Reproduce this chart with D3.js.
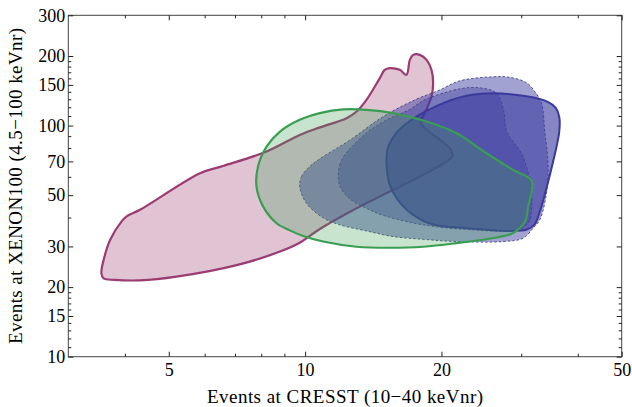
<!DOCTYPE html>
<html>
<head>
<meta charset="utf-8">
<script src="https://cdn.jsdelivr.net/npm/d3@7"></script>
<style>
  body { margin: 0; background: #fff; }
  text { font-family: "Liberation Serif", "Times New Roman", serif; }
</style>
</head>
<body>
<div id="chart"></div>
<script>
const width = 632
const height = 407
const margin = {top: 15.3, right: 10.3, bottom: 50.3, left: 68.3}

// ticks
const xTicks = [5, 10, 20, 50]
const xMinor = [4, 6, 7, 8, 9, 30, 40]
const yTicks = [10, 15, 20, 30, 50, 70, 100, 150, 200, 300]
const yMinor = [11, 12, 13, 14, 16, 17, 18, 19, 40, 60, 80, 90, 110, 120, 130, 140, 160, 170, 180, 190]

// contours, [events CRESST, events XENON100]
const regionPink = [[3.55,23.0],[3.59,21.8],[3.80,21.5],[4.32,21.4],[5.20,22.2],[7.06,24.9],[8.80,28.5],[9.73,31.1],
  [10.78,35.7],[12.99,43.9],[15.38,51.8],[18.22,61.2],[20.52,69.9],[21.15,73.9],[20.86,79.8],[18.22,99.0],
  [17.98,104.1],[18.22,109.4],[19.01,133.5],[19.17,152.6],[19.01,174.2],[18.54,192.5],[17.92,202.3],[17.32,202.3],
  [17.03,192.5],[16.74,165.8],[16.18,174.2],[15.38,177.2],[14.99,174.2],[14.62,160.4],[13.66,129.2],[12.99,115.0],
  [12.34,107.6],[10.78,98.2],[9.73,91.1],[8.22,77.2],[6.59,66.9],[5.86,62.2],[4.32,43.2],[4.03,40.4],
  [3.93,38.4],[3.71,32.0],[3.59,26.2]]

const regionOuter = [[9.73,54.4],[9.82,60.2],[10.24,66.5],[10.96,73.4],[12.55,86.5],[14.84,109.1],[17.47,129.2],
  [19.63,141.3],[21.95,156.1],[25.96,162.5],[28.31,161.7],[30.86,153.0],[32.14,140.3],[33.26,125.0],[33.82,94.2],
  [34.39,67.6],[34.11,51.0],[32.97,39.1],[31.87,36.0],[30.29,32.55],[27.36,31.5],[21.59,31.5],[18.22,32.2],
  [15.64,33.1],[13.66,35.0],[11.93,37.2],[10.96,39.9],[10.07,46.1]]

const regionInner = [[11.84,59.4],[11.93,67.6],[12.24,74.7],[12.68,80.9],[13.75,93.9],[15.23,106.4],[17.03,117.5],
  [18.38,129.2],[21.95,144.2],[24.31,145.6],[26.45,138.1],[27.36,118.9],[27.88,93.9],[28.89,84.2],[30.04,75.9],
  [30.86,65.6],[31.49,55.4],[31.65,45.4],[31.17,38.3],[29.33,35.4],[23.49,35.4],[18.22,37.2],[14.99,40.7],
  [13.75,43.6],[12.55,48.2],[11.99,53.7]]

const regionBlue = [[15.13,67.6],[15.23,80.1],[15.78,91.1],[16.60,100.7],[17.65,109.6],[19.53,121.7],[22.71,134.5],
  [25.96,137.9],[30.81,133.8],[34.34,126.7],[35.76,119.3],[36.40,109.1],[36.40,94.2],[35.28,69.9],[34.11,53.6],
  [32.97,42.4],[32.14,37.5],[30.86,35.5],[28.31,35.0],[22.33,36.1],[19.17,37.35],[17.32,41.1],[16.02,47.7],
  [15.38,55.4]]

const regionGreen = [[7.81,54.4],[7.87,66.5],[8.22,81.1],[8.80,94.2],[9.73,105.9],[10.78,113.2],[12.13,117.5],
  [13.66,117.0],[15.64,113.2],[18.54,104.1],[21.59,92.7],[25.14,75.9],[28.79,64.3],[31.65,57.6],[31.07,44.6],
  [30.55,38.3],[28.79,34.3],[26.45,32.8],[21.59,31.0],[18.22,29.9],[15.38,29.6],[12.99,29.9],[10.96,31.5],
  [9.90,33.3],[9.25,35.2],[8.65,37.8],[8.08,44.6]]

const svg = d3.select("div#chart")
    .append("svg")
    .attr("width", width)
    .attr("height", height)

const x = d3.scaleLog().domain([3, 50]).range([margin.left, width - margin.right])
const y = d3.scaleLog().domain([10, 300]).range([height - margin.bottom, margin.top])

const line = d3.line()
    .x(d => x(d[0]))
    .y(d => y(d[1]))
    .curve(d3.curveCatmullRomClosed.alpha(0.5))

const shapes = svg.append("g")

// de abajo hacia arriba
shapes.append("path").datum(regionPink)
    .attr("d", line)
    .attr("fill", "#9b3b72").attr("fill-opacity", 0.3)
    .attr("stroke", "#9b3b72").attr("stroke-width", 2.2)

shapes.append("path").datum(regionOuter)
    .attr("d", line)
    .attr("fill", "#3c3ca0").attr("fill-opacity", 0.48)
    .attr("stroke", "#44447e").attr("stroke-width", 0.9)
    .attr("stroke-dasharray", "2.5,2")

shapes.append("path").datum(regionInner)
    .attr("d", line)
    .attr("fill", "#3c3ca0").attr("fill-opacity", 0.4)
    .attr("stroke", "#44447e").attr("stroke-width", 0.9)
    .attr("stroke-dasharray", "2.5,2")

shapes.append("path").datum(regionBlue)
    .attr("d", line)
    .attr("fill", "#3c3ca0").attr("fill-opacity", 0.62)
    .attr("stroke", "#3a3a9c").attr("stroke-width", 2)

shapes.append("path").datum(regionGreen)
    .attr("d", line)
    .attr("fill", "#3a9e52").attr("fill-opacity", 0.28)
    .attr("stroke", "#3a9e52").attr("stroke-width", 2.2)

// marco
svg.append("rect")
    .attr("x", margin.left).attr("y", margin.top)
    .attr("width", width - margin.left - margin.right)
    .attr("height", height - margin.top - margin.bottom)
    .attr("fill", "none").attr("stroke", "#444").attr("stroke-width", 1)

function styleAxis(g) {
    g.select(".domain").remove()
    g.attr("font-size", 18).attr("font-family", '"Liberation Serif", "Times New Roman", serif')
    g.selectAll(".tick line").attr("stroke", "#222")
    g.selectAll(".tick text").attr("fill", "#000")
}

const bottom = height - margin.bottom
const right = width - margin.right

svg.append("g").attr("transform", `translate(0,${bottom})`)
    .call(d3.axisBottom(x).tickValues(xTicks).tickFormat(d3.format("d")).tickSizeInner(-5).tickSizeOuter(0).tickPadding(7))
    .call(styleAxis)
svg.append("g").attr("transform", `translate(0,${bottom})`)
    .call(d3.axisBottom(x).tickValues(xMinor).tickFormat("").tickSizeInner(-3).tickSizeOuter(0))
    .call(styleAxis)
svg.append("g").attr("transform", `translate(0,${margin.top})`)
    .call(d3.axisTop(x).tickValues(xTicks).tickFormat("").tickSizeInner(-5).tickSizeOuter(0))
    .call(styleAxis)
svg.append("g").attr("transform", `translate(0,${margin.top})`)
    .call(d3.axisTop(x).tickValues(xMinor).tickFormat("").tickSizeInner(-3).tickSizeOuter(0))
    .call(styleAxis)

svg.append("g").attr("transform", `translate(${margin.left},0)`)
    .call(d3.axisLeft(y).tickValues(yTicks).tickFormat(d3.format("d")).tickSizeInner(-5).tickSizeOuter(0).tickPadding(3))
    .call(styleAxis)
svg.append("g").attr("transform", `translate(${margin.left},0)`)
    .call(d3.axisLeft(y).tickValues(yMinor).tickFormat("").tickSizeInner(-3).tickSizeOuter(0))
    .call(styleAxis)
svg.append("g").attr("transform", `translate(${right},0)`)
    .call(d3.axisRight(y).tickValues(yTicks).tickFormat("").tickSizeInner(-5).tickSizeOuter(0))
    .call(styleAxis)
svg.append("g").attr("transform", `translate(${right},0)`)
    .call(d3.axisRight(y).tickValues(yMinor).tickFormat("").tickSizeInner(-3).tickSizeOuter(0))
    .call(styleAxis)

// titulos de ejes
svg.append("text")
    .attr("x", (margin.left + right) / 2)
    .attr("y", 403)
    .attr("text-anchor", "middle")
    .attr("font-size", 19)
    .attr("textLength", 276)
    .attr("lengthAdjust", "spacing")
    .text("Events at CRESST (10\u221240 keVnr)")

svg.append("text")
    .attr("transform", `translate(22,${(margin.top + bottom) / 2}) rotate(-90)`)
    .attr("text-anchor", "middle")
    .attr("font-size", 19)
    .attr("textLength", 316)
    .attr("lengthAdjust", "spacing")
    .text("Events at XENON100 (4.5\u2212100 keVnr)")
</script>
</body>
</html>
